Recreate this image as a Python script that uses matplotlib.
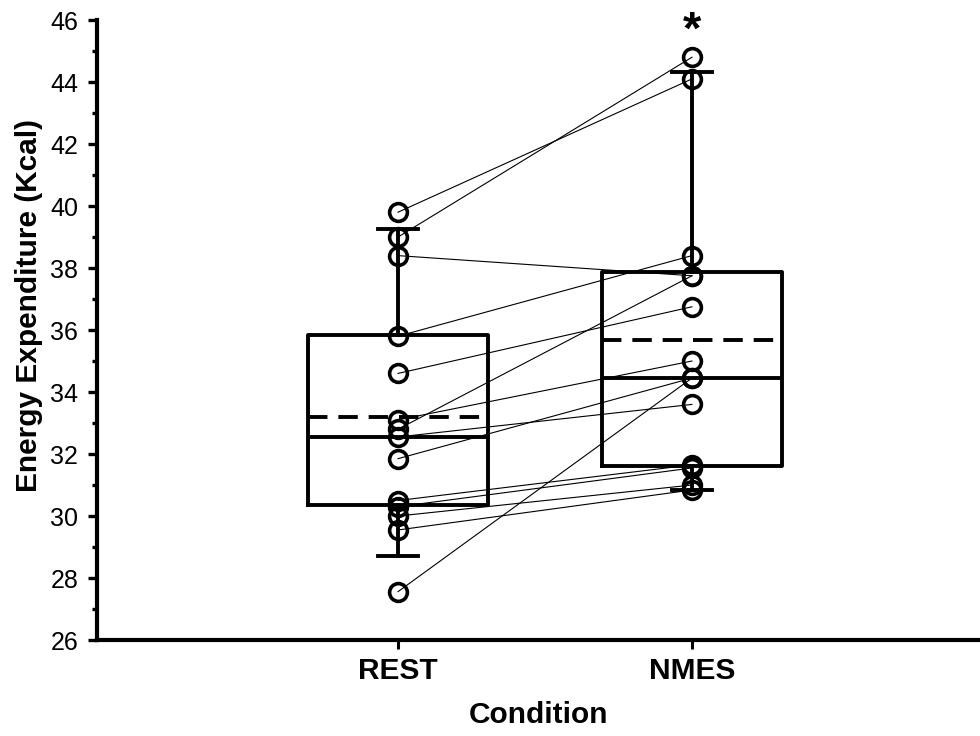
import matplotlib.pyplot as plt
import numpy as np

plt.rcParams['font.family'] = ['Liberation Sans', 'DejaVu Sans']

# --- data ---
conditions = ['REST', 'NMES']
rest_vals = [39.8, 39.0, 38.4, 35.8, 34.6, 33.1, 32.8, 32.55, 31.85, 30.5, 30.3, 30.0, 29.55, 27.56]
nmes_vals = [44.1, 44.8, 37.75, 38.4, 36.75, 35.0, 37.75, 33.6, 34.45, 31.65, 31.55, 31.0, 30.84, 34.45]

# box stats (10th/90th percentile whiskers, dashed mean)
medians = [32.55, 34.45]
q1s = [30.35, 31.62]
q3s = [35.85, 37.86]
whis_lo = [28.72, 30.84]
whis_hi = [39.26, 44.33]
means = [33.2, 35.68]

positions = [1, 2]
box_w = 0.612
lw = 2.8

fig = plt.figure(figsize=(9.8, 7.36), dpi=100)
ax = fig.add_axes([0.099, 0.1304, 0.901, 0.8424])

stats = []
for i, c in enumerate(conditions):
    stats.append({'label': c, 'med': medians[i], 'q1': q1s[i], 'q3': q3s[i],
                  'whislo': whis_lo[i], 'whishi': whis_hi[i], 'mean': means[i], 'fliers': []})

ax.bxp(stats, positions=positions, widths=box_w, showmeans=True, meanline=True,
       boxprops=dict(color='black', linewidth=lw),
       medianprops=dict(color='black', linewidth=lw),
       meanprops=dict(color='black', linewidth=lw, linestyle=(0, (5.0, 2.8))),
       whiskerprops=dict(color='black', linewidth=lw),
       capprops=dict(color='black', linewidth=lw),
       capwidths=0.135, zorder=2)

# paired lines (same subject REST -> NMES)
for r, n in zip(rest_vals, nmes_vals):
    ax.plot(positions, [r, n], color='black', linewidth=0.8, zorder=3)

# points
ax.plot(np.full(len(rest_vals), positions[0]), rest_vals, 'o', mfc='none', mec='black',
        ms=12.8, mew=2.6, zorder=4, clip_on=False)
ax.plot(np.full(len(nmes_vals), positions[1]), nmes_vals, 'o', mfc='none', mec='black',
        ms=12.8, mew=2.6, zorder=4, clip_on=False)

ax.text(positions[1], 45.25, '*', ha='center', va='baseline', fontsize=34, fontweight='bold')

ax.set_xlim(-0.024, 2.98)
ax.set_ylim(26, 46)
ax.set_yticks(np.arange(26, 47, 2))
ax.set_yticks(np.arange(26, 47, 1), minor=True)
ax.set_xticks(positions)
ax.set_xticklabels(conditions, fontsize=21.5, fontweight='bold')
ax.tick_params(axis='x', length=6.5, width=2.2, pad=6)
ax.tick_params(axis='y', which='major', length=6.5, width=2.4, labelsize=18, pad=7)
ax.tick_params(axis='y', which='minor', length=3.5, width=2.4)

for s in ['top', 'right']:
    ax.spines[s].set_visible(False)
for s in ['left', 'bottom']:
    ax.spines[s].set_linewidth(3.0)

ax.set_ylabel('Energy Expenditure (Kcal)', fontsize=21.5, fontweight='bold', labelpad=5)
ax.yaxis.label.set_y(0.54)
ax.set_xlabel('Condition', fontsize=21.5, fontweight='bold', labelpad=11)

fig.savefig('out.png', dpi=100)
